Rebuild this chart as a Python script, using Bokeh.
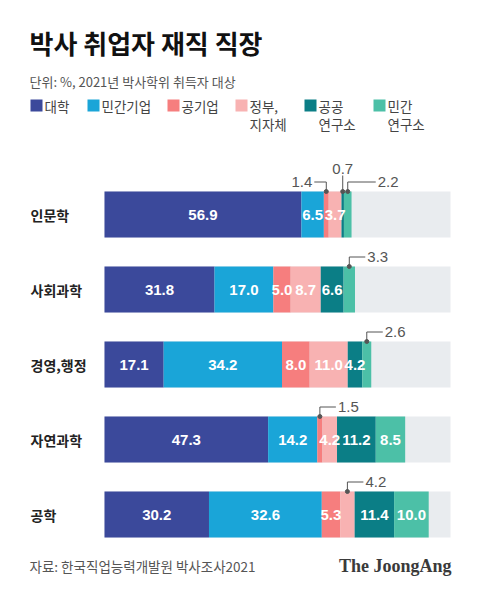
from bokeh.plotting import figure
from bokeh.models import Range1d, Label
from bokeh.core.properties import value
from bokeh.embed import file_html
from bokeh.resources import INLINE

# ---------------- data ----------------
categories = ["인문학", "사회과학", "경영,행정", "자연과학", "공학"]
series_names = ["대학", "민간기업", "공기업", "정부,\n지자체", "공공\n연구소", "민간\n연구소"]
univ = [56.9, 31.8, 17.1, 47.3, 30.2]
private_corp = [6.5, 17.0, 34.2, 14.2, 32.6]
public_corp = [1.4, 5.0, 8.0, 1.5, 5.3]
government = [3.7, 8.7, 11.0, 4.2, 4.2]
public_lab = [0.7, 6.6, 4.2, 11.2, 11.4]
private_lab = [2.2, 3.3, 2.6, 8.5, 10.0]
series_values = [univ, private_corp, public_corp, government, public_lab, private_lab]
colors = ["#3b499b", "#1aa5d8", "#f67e7e", "#f8b2b2", "#0b7e86", "#4cc0a7"]
# small segments labelled outside: (category index, series index, style, arm px)
callouts = [(0, 2, "left", 12), (0, 4, "up", 16), (0, 5, "right", 28),
            (1, 5, "right", 16), (2, 5, "right", 16), (3, 2, "right", 16),
            (4, 3, "right", 16)]

title = "박사 취업자 재직 직장"
subtitle = "단위: %, 2021년 박사학위 취득자 대상"
source_text = "자료: 한국직업능력개발원 박사조사2021"
brand = "The JoongAng"

# ---------------- geometry ----------------
W, H = 464, 579
OFFX, OFFY = 0, 2
SX = 3.46          # px per percent
X0_PX = 104 - OFFX # figure px of 0 %
ROW_PX = 75
ROW0_PX = 216 - OFFY
BAR_PX = 46

def px_x(page_x):
    return (page_x - OFFX - X0_PX) / SX

def px_y(page_y):
    return (page_y - OFFY - ROW0_PX) / ROW_PX

p = figure(width=W, height=H, output_backend="svg", toolbar_location=None,
           x_range=Range1d(-X0_PX / SX, (W - X0_PX) / SX),
           y_range=Range1d((H - ROW0_PX) / ROW_PX, -ROW0_PX / ROW_PX),
           min_border=0, min_border_left=0, min_border_right=0,
           min_border_top=0, min_border_bottom=0)
p.outline_line_color = None
p.axis.visible = False
p.xgrid.visible = False
p.ygrid.visible = False
p.background_fill_color = "white"
p.border_fill_color = "white"

rows = list(range(len(categories)))
bar_h = BAR_PX / ROW_PX

# background track (100 %)
p.hbar(y=rows, left=0, right=100, height=bar_h, color="#e9ecef", line_color=None)

KFONT = value("Noto Sans CJK KR")
NFONT = value("Liberation Sans")

callout_set = {(c, s) for c, s, _, _ in callouts}
lefts = [0.0] * len(categories)
in_x, in_y, in_t = [], [], []
centers = {}
for s, vals in enumerate(series_values):
    rights = [l + v for l, v in zip(lefts, vals)]
    p.hbar(y=rows, left=lefts, right=rights, height=bar_h, color=colors[s], line_color=None)
    for c in rows:
        cx = (lefts[c] + rights[c]) / 2
        centers[(c, s)] = cx
        if (c, s) not in callout_set:
            in_x.append(cx)
            in_y.append(c)
            in_t.append(f"{vals[c]:.1f}")
    lefts = rights

p.text(x=in_x, y=in_y, text=in_t, text_color="white", text_font=NFONT,
       text_font_style="bold", text_font_size="15px", text_align="center",
       text_baseline="middle")

# callouts
line_xs, line_ys, dot_x, dot_y = [], [], [], []
for c, s, style, arm in callouts:
    cx = centers[(c, s)]
    top = c - bar_h / 2
    elbow = top - 9.5 / ROW_PX
    dot_x.append(cx)
    dot_y.append(top)
    txt = f"{series_values[s][c]:.1f}"
    if style == "up":
        line_xs.append([cx, cx])
        line_ys.append([top, top - arm / ROW_PX])
        p.text(x=[cx], y=[top - 23 / ROW_PX], text=[txt], text_color="#555555",
               text_font=NFONT, text_font_size="15px", text_align="center",
               text_baseline="middle")
    elif style == "left":
        xe = cx - arm / SX
        line_xs.append([cx, cx, xe])
        line_ys.append([top, elbow, elbow])
        p.text(x=[xe - 2 / SX], y=[elbow], text=[txt], text_color="#555555",
               text_font=NFONT, text_font_size="15px", text_align="right",
               text_baseline="middle")
    else:
        xe = cx + arm / SX
        line_xs.append([cx, cx, xe])
        line_ys.append([top, elbow, elbow])
        p.text(x=[xe + 2 / SX], y=[elbow], text=[txt], text_color="#555555",
               text_font=NFONT, text_font_size="15px", text_align="left",
               text_baseline="middle")
p.multi_line(xs=line_xs, ys=line_ys, line_color="#555555", line_width=1)
p.scatter(x=dot_x, y=dot_y, size=4, color="#555555", marker="circle")

# category labels
p.text(x=[px_x(30)] * len(categories), y=rows, text=categories, text_color="#222222",
       text_font=KFONT, text_font_style="bold", text_font_size="14px",
       text_align="left", text_baseline="middle")

# title / subtitle
p.add_layout(Label(x=px_x(29), y=px_y(44), text=title, text_font="Noto Sans CJK KR",
                   text_font_style="bold", text_font_size="26px", text_color="#111111",
                   text_baseline="middle", text_align="left"))
p.add_layout(Label(x=px_x(29), y=px_y(83), text=subtitle, text_font="Noto Sans CJK KR",
                   text_font_size="13px", text_color="#555555",
                   text_baseline="middle", text_align="left"))

# legend
leg_sq_x = [36, 93, 173, 241, 310, 379]
for i, name in enumerate(series_names):
    p.scatter(x=[px_x(leg_sq_x[i])], y=[px_y(107)], marker="square", size=12,
              color=colors[i], line_color=None)
    for j, line in enumerate(name.split("\n")):
        p.add_layout(Label(x=px_x(leg_sq_x[i] + 8), y=px_y(107 + 18 * j), text=line,
                           text_font="Noto Sans CJK KR", text_font_size="13.5px",
                           text_color="#444444", text_baseline="middle",
                           text_align="left"))

# footer
p.add_layout(Label(x=px_x(29), y=px_y(567), text=source_text, text_font="Noto Sans CJK KR",
                   text_font_size="13.5px", text_color="#555555",
                   text_baseline="middle", text_align="left"))
p.add_layout(Label(x=px_x(451), y=px_y(567), text=brand, text_font="Liberation Serif",
                   text_font_style="bold", text_font_size="18px", text_color="#3a3a3a",
                   text_baseline="middle", text_align="right"))

open("out.html", "w").write(file_html(p, INLINE))
